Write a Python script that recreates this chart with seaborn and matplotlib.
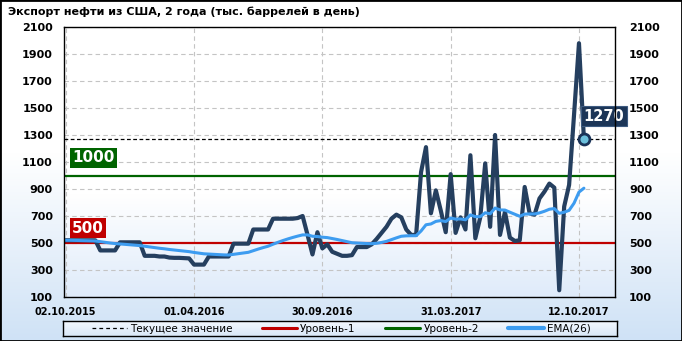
import numpy as np
import pandas as pd
import matplotlib
matplotlib.use("Agg")
import matplotlib.pyplot as plt
import seaborn as sns
from matplotlib.lines import Line2D
from matplotlib.colors import LinearSegmentedColormap
from matplotlib.patches import Rectangle

# ---------------- data ----------------
title = "Экспорт нефти из США, 2 года (тыс. баррелей в день)"
date_labels = ["02.10.2015", "01.04.2016", "30.09.2016", "31.03.2017", "12.10.2017"]
date_label_idx = [0, 26, 52, 78, 104]
y_ticks = [100, 300, 500, 700, 900, 1100, 1300, 1500, 1700, 1900, 2100]

exports = [520, 520, 520, 520, 520, 520, 520,
           445, 445, 445, 445,
           505, 505, 505, 505, 505,
           405, 405, 405, 400, 400,
           392, 390, 390, 388, 386,
           340, 340, 340,
           400, 400, 400, 400, 400,
           495, 495, 495, 495,
           600, 600, 600, 600,
           680, 680, 680, 680, 680,
           685, 700, 560, 415, 580, 460, 490, 435, 420, 405, 405, 410,
           470, 470, 470, 490, 530, 575, 620, 680, 710, 690, 600, 560, 560,
           1025, 1210, 720, 890, 740, 580, 1010, 575, 690, 600, 1150, 535,
           690, 1090, 620, 1300, 560, 730, 540, 515, 520, 915, 720, 710,
           830, 880, 940, 910, 150, 770, 930, 1450, 1980, 1270]

ema26 = [520, 520, 519, 518, 517, 516, 515, 510, 505, 500, 496, 493, 490,
         487, 484, 481, 476, 471, 466, 461, 457, 452, 448, 444, 440, 436,
         430, 425, 420, 418, 416, 414, 412, 411, 416, 421, 426, 431, 443,
         455, 466, 476, 491, 505, 518, 530, 541, 551, 560, 560, 550, 548,
         543, 540, 533, 526, 518, 510, 502, 500, 498, 496, 495, 498, 504,
         512, 525, 538, 550, 553, 554, 554, 589, 635, 641, 660, 666, 659,
         685, 677, 678, 672, 708, 695, 695, 724, 716, 759, 745, 744, 728,
         713, 698, 714, 715, 715, 723, 735, 750, 755, 720, 728, 742, 795,
         877, 906]

level1 = 500
level2 = 1000
current_value = 1270

legend_labels = ["Текущее значение", "Уровень-1", "Уровень-2", "EMA(26)"]

# ---------------- style ----------------
sns.set_style("white")
plt.rcParams["font.family"] = ["DejaVu Sans"]
plt.rcParams["text.color"] = "black"
plt.rcParams["xtick.color"] = "black"
plt.rcParams["ytick.color"] = "black"

C_MAIN = "#253f5f"
C_EMA = "#3d9cf0"
C_RED = "#c00000"
C_GREEN = "#006400"

W, H = 682, 341
fig = plt.figure(figsize=(W / 100, H / 100), dpi=100)
fig.patch.set_facecolor("white")

grad = np.linspace(0, 1, 256).reshape(-1, 1)

# figure background gradient + border
bg = fig.add_axes([0, 0, 1, 1], zorder=-10)
bg.set_axis_off()
cmap_fig = LinearSegmentedColormap.from_list(
    "f", [(0, "white"), (0.45, "white"), (1, "#cfe2f6")])
bg.imshow(grad, aspect="auto", cmap=cmap_fig, extent=[0, 1, 0, 1])
bg.set_xlim(0, 1)
bg.set_ylim(0, 1)
bg.add_patch(Rectangle((0, 0), 1, 1, transform=bg.transAxes, fill=False,
                       ec="black", lw=2))

# main axes
ax = fig.add_axes([64 / W, 1 - 297 / H, (615 - 64) / W, (297 - 27) / H])
ax.set_facecolor("none")
cmap_ax = LinearSegmentedColormap.from_list(
    "a", [(0, "white"), (0.62, "white"), (1, "#dfebfa")])
ax.imshow(grad, aspect="auto", cmap=cmap_ax, extent=[0, 1, 0, 1],
          transform=ax.transAxes, zorder=0)

df = pd.DataFrame({"idx": np.arange(len(exports)),
                   "exports": exports,
                   "ema": ema26})

ax.axhline(level1, color=C_RED, lw=1.6, zorder=3)
ax.axhline(level2, color=C_GREEN, lw=1.6, zorder=3)
ax.axhline(current_value, color="black", lw=0.9, ls=(0, (3, 2)), zorder=3)

sns.lineplot(data=df, x="idx", y="exports", ax=ax, color=C_MAIN, lw=3,
             zorder=5)
sns.lineplot(data=df, x="idx", y="ema", ax=ax, color=C_EMA, lw=2.2,
             zorder=6)
last = df.iloc[[-1]]
sns.scatterplot(data=last, x="idx", y="exports", ax=ax, s=62,
                color="#6cc0dc", edgecolor="#1a3358", linewidth=2,
                zorder=8, clip_on=False)

ax.set_xlim(-0.35, 111.3)
ax.set_ylim(y_ticks[0], y_ticks[-1])
ax.set_xticks(date_label_idx)
ax.set_xticklabels(date_labels)
ax.set_yticks(y_ticks)
ax.set_xlabel("")
ax.set_ylabel("")
ax.grid(True, ls=(0, (4, 3)), color="#c4c4c4", lw=0.8, zorder=1)
ax.set_axisbelow(True)
for s in ax.spines.values():
    s.set_color("black")
    s.set_linewidth(1)
    s.set_zorder(10)
ax.tick_params(axis="both", length=0, colors="black")
ax.tick_params(axis="y", pad=8, labelsize=8)
ax.tick_params(axis="x", pad=7, labelsize=7)
for lab in ax.get_yticklabels() + ax.get_xticklabels():
    lab.set_fontweight("bold")

ax2 = ax.twinx()
ax2.set_ylim(y_ticks[0], y_ticks[-1])
ax2.set_yticks(y_ticks)
ax2.tick_params(axis="y", length=0, pad=10, labelsize=8, colors="black")
for lab in ax2.get_yticklabels():
    lab.set_fontweight("bold")
for s in ax2.spines.values():
    s.set_visible(False)

# level labels
ax.text(1.3, level2 + 130, str(level2), ha="left", va="center",
        color="white", fontsize=11, fontweight="bold", zorder=9,
        bbox=dict(boxstyle="square,pad=0.15", fc=C_GREEN, ec="none"))
ax.text(1.3, level1 + 110, str(level1), ha="left", va="center",
        color="white", fontsize=11, fontweight="bold", zorder=9,
        bbox=dict(boxstyle="square,pad=0.15", fc=C_RED, ec="none"))
ax.text(df["idx"].iloc[-1] + 4, current_value + 170, str(current_value),
        ha="center", va="center", color="white", fontsize=10.5,
        fontweight="bold", zorder=9, clip_on=False,
        bbox=dict(boxstyle="square,pad=0.18", fc="#1c3557", ec="#3d5a80",
                  lw=0.8))

# title
fig.text(8 / W, 1 - 12 / H, title, ha="left", va="center", fontsize=8,
         fontweight="bold", color="black")

# legend box
legax = fig.add_axes([63 / W, 1 - 336 / H, 554 / W, 15 / H], zorder=1)
cmap_leg = LinearSegmentedColormap.from_list("l", ["#f4f8fe", "#d9e8f8"])
legax.imshow(grad, aspect="auto", cmap=cmap_leg, extent=[0, 1, 0, 1])
legax.set_xticks([])
legax.set_yticks([])
for s in legax.spines.values():
    s.set_color("black")
    s.set_linewidth(1)

handles = [Line2D([], [], color="black", lw=0.9, ls=(0, (3, 2.5))),
           Line2D([], [], color=C_RED, lw=2.2),
           Line2D([], [], color=C_GREEN, lw=2.2),
           Line2D([], [], color=C_EMA, lw=3)]
fig.legend(handles, legend_labels, loc="center",
           bbox_to_anchor=(341 / W, 1 - 328.5 / H), ncol=4, frameon=False,
           fontsize=7.5, handlelength=3.4, columnspacing=2.8,
           handletextpad=0.3, borderpad=0.1, labelcolor="black")

fig.savefig("out.png", dpi=100)
